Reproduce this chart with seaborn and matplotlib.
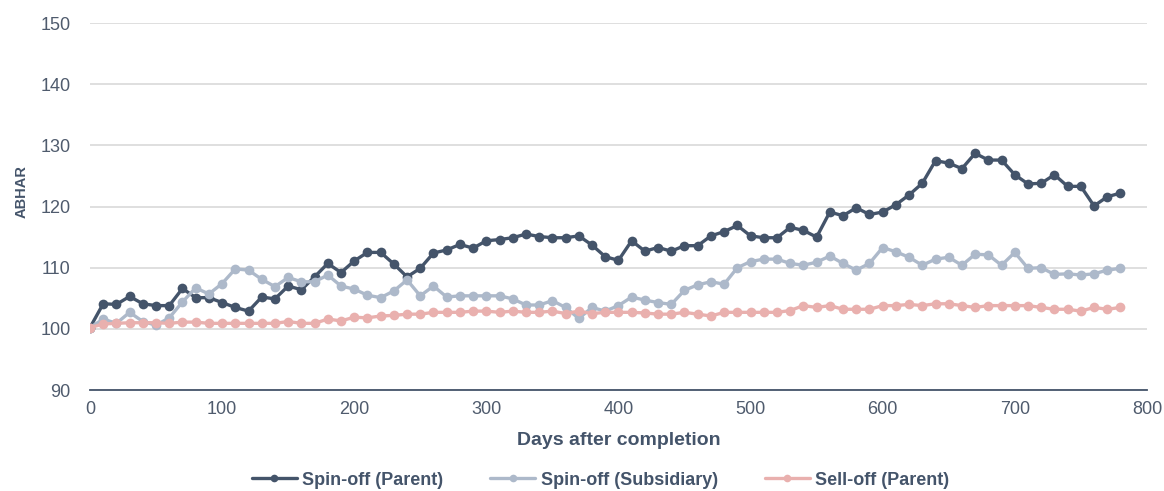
import numpy as np
import pandas as pd
import matplotlib
matplotlib.use("Agg")
import matplotlib.pyplot as plt
import seaborn as sns

# Data (one point every 10 days)
days = np.arange(0, 790, 10)

spin_parent = [100.2, 104.1, 104.0, 105.3, 104.1, 103.8, 103.8, 106.6, 105.1, 105.1,
               104.3, 103.5, 102.9, 105.2, 104.9, 107.0, 106.4, 108.5, 110.7, 109.2,
               111.1, 112.5, 112.5, 110.6, 108.5, 109.9, 112.4, 112.9, 113.8, 113.2,
               114.4, 114.6, 114.9, 115.5, 115.1, 114.9, 114.9, 115.2, 113.7, 111.8,
               111.2, 114.4, 112.7, 113.3, 112.7, 113.6, 113.6, 115.2, 115.9, 116.9,
               115.2, 114.9, 114.9, 116.6, 116.1, 115.0, 119.1, 118.5, 119.8, 118.7,
               119.1, 120.3, 121.9, 123.8, 127.5, 127.1, 126.2, 128.7, 127.6, 127.6,
               125.2, 123.7, 123.8, 125.2, 123.3, 123.3, 120.1, 121.6, 122.2]

spin_subsidiary = [100.2, 101.6, 100.9, 102.7, 101.2, 100.6, 101.8, 104.4, 106.7, 105.7,
                   107.4, 109.8, 109.6, 108.1, 106.9, 108.4, 107.7, 107.7, 108.8, 107.0,
                   106.5, 105.5, 105.1, 106.2, 108.0, 105.4, 107.0, 105.2, 105.4, 105.4,
                   105.4, 105.4, 104.9, 103.9, 103.9, 104.6, 103.5, 101.7, 103.5, 102.9,
                   103.8, 105.2, 104.7, 104.3, 104.0, 106.3, 107.2, 107.7, 107.3, 110.0,
                   111.0, 111.4, 111.4, 110.7, 110.4, 110.9, 111.9, 110.7, 109.6, 110.7,
                   113.3, 112.6, 111.7, 110.4, 111.4, 111.7, 110.4, 112.2, 112.1, 110.4,
                   112.5, 109.9, 110.0, 108.9, 109.0, 108.8, 109.0, 109.6, 109.9]

sell_parent = [100.2, 100.8, 100.9, 101.0, 101.0, 101.0, 100.9, 101.1, 101.1, 100.9,
               100.9, 100.9, 100.9, 100.9, 100.9, 101.2, 100.9, 100.9, 101.6, 101.3,
               101.9, 101.8, 102.1, 102.2, 102.4, 102.4, 102.7, 102.7, 102.7, 102.9,
               102.9, 102.7, 102.9, 102.7, 102.7, 102.9, 102.5, 102.9, 102.5, 102.7,
               102.7, 102.7, 102.6, 102.4, 102.4, 102.7, 102.4, 102.1, 102.7, 102.7,
               102.7, 102.7, 102.7, 103.0, 103.8, 103.5, 103.8, 103.2, 103.2, 103.2,
               103.8, 103.8, 104.0, 103.8, 104.1, 104.1, 103.8, 103.5, 103.8, 103.8,
               103.8, 103.8, 103.5, 103.2, 103.2, 102.9, 103.5, 103.2, 103.5]

series_names = ["Spin-off (Parent)", "Spin-off (Subsidiary)", "Sell-off (Parent)"]
colors = ["#44546A", "#ADB9CA", "#E9B0AE"]

df = pd.DataFrame({
    "days": np.concatenate([days, days, days]),
    "abhar": spin_parent + spin_subsidiary + sell_parent,
    "series": np.repeat(series_names, len(days)),
})

sns.set_style("white")
plt.rcParams["font.family"] = ["Liberation Sans", "DejaVu Sans"]

text_col = "#44546A"
tick_col = "#4F5B6D"

fig = plt.figure(figsize=(11.64, 4.91), dpi=100)
ax = fig.add_axes([0.0773, 0.2057, 0.908, 0.7473])

for name, col in zip(series_names, colors):
    sns.lineplot(data=df[df["series"] == name], x="days", y="abhar", ax=ax,
                 color=col, linewidth=2.4, marker="o", markersize=7,
                 markeredgewidth=0, label=name)

ax.set_xlim(0, 800)
ax.set_ylim(90, 150)
ax.set_xticks(range(0, 801, 100))
ax.set_yticks(range(90, 151, 10))
ax.yaxis.grid(True, color="#D9D9D9", linewidth=1.2)
ax.xaxis.grid(False)
for s in ["top", "right", "left"]:
    ax.spines[s].set_visible(False)
ax.spines["bottom"].set_color(text_col)
ax.spines["bottom"].set_linewidth(1.3)
ax.tick_params(axis="both", length=0, labelsize=13, labelcolor=tick_col)
ax.tick_params(axis="x", pad=8)
ax.tick_params(axis="y", pad=14)

ax.set_xlabel("Days after completion", fontsize=14, fontweight="bold",
              color=text_col, labelpad=10)
ax.set_ylabel("ABHAR", fontsize=10.5, fontweight="bold", color=text_col)
ax.yaxis.set_label_coords(-0.058, 0.54)

ax.get_legend().remove()
handles, labels = ax.get_legend_handles_labels()
leg = fig.legend(handles, labels, loc="center", bbox_to_anchor=(0.516, 0.022),
                 ncol=3, frameon=False, fontsize=13, handlelength=2.5,
                 columnspacing=2.6, handletextpad=0.3)
# smaller dots on the legend copies only
for h in leg.legend_handles:
    h.set_markersize(5.5)
for t in leg.get_texts():
    t.set_fontweight("bold")
    t.set_color(text_col)

fig.savefig("out.png", dpi=100)
